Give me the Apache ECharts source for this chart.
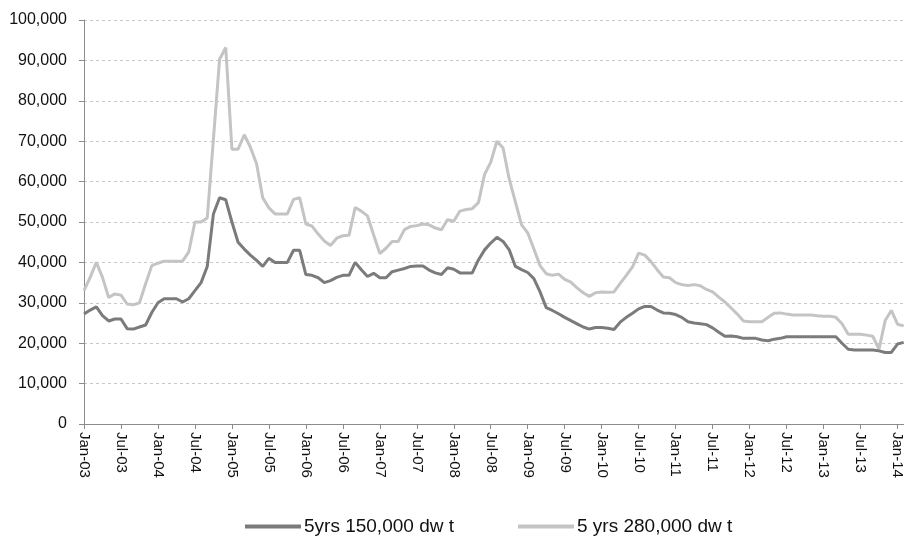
<!DOCTYPE html>
<html>
<head>
<meta charset="utf-8">
<script src="https://cdn.jsdelivr.net/npm/echarts@6/dist/echarts.min.js"></script>
<style>
  html, body { margin: 0; padding: 0; background: #fff; }
  #chart { width: 905px; height: 545px; }
</style>
</head>
<body>
<div id="chart"></div>
<script>
// monthly, Jan-03 .. Feb-14
var monthNames = ['Jan', 'Feb', 'Mar', 'Apr', 'May', 'Jun', 'Jul', 'Aug', 'Sep', 'Oct', 'Nov', 'Dec'];
var months = [];
for (var y = 3; y <= 14; y++) {
    for (var m = 0; m < 12; m++) {
        if (y === 14 && m > 1) break;
        months.push(monthNames[m] + '-' + (y < 10 ? '0' + y : y));
    }
}

var seriesNames = ['5yrs 150,000 dw t', '5 yrs 280,000 dw t'];

var dwt150 = [
    27200, 28200, 29000, 26800, 25500, 26000, 26000, 23600, 23500, 24000, 24500, 27600,
    30000, 31000, 31000, 31000, 30200, 31000, 33000, 35000, 39000, 52000, 56000, 55500,
    50000, 45000, 43300, 41800, 40500, 39000, 41000, 40000, 40000, 40000, 43000, 43000,
    37000, 36800, 36200, 35000, 35500, 36300, 36800, 36800, 40000, 38200, 36500, 37300,
    36200, 36200, 37700, 38100, 38500, 39000, 39100, 39100, 38100, 37400, 37000, 38700,
    38300, 37400, 37400, 37400, 40600, 43100, 44800, 46200, 45200, 43100, 39000, 38200,
    37500, 36000, 32700, 28800, 28100, 27300, 26400, 25600, 24800, 24000, 23500, 23900,
    23900, 23700, 23400, 25200, 26400, 27400, 28500, 29100, 29100, 28200, 27500, 27400,
    27100, 26400, 25300, 25000, 24800, 24600, 23800, 22700, 21700, 21800, 21600, 21200,
    21200, 21200, 20800, 20600, 21000, 21200, 21600, 21600, 21600, 21600, 21600, 21600,
    21600, 21600, 21600, 20000, 18500, 18300, 18300, 18300, 18300, 18100, 17700, 17700,
    19800, 20200
];

var dwt280 = [
    33000, 36300, 40000, 36300, 31300, 32200, 31900, 29700, 29500, 30000, 34700, 39200,
    39800, 40300, 40300, 40300, 40300, 42600, 50000, 50000, 51000, 70500, 90300, 93200,
    68000, 68000, 71600, 68500, 64400, 56000, 53500, 52000, 52000, 52000, 55600, 56000,
    49500, 49000, 47000, 45300, 44200, 46000, 46600, 46700, 53600, 52700, 51500, 46800,
    42200, 43500, 45200, 45200, 48100, 48900, 49100, 49500, 49300, 48500, 48100, 50600,
    50200, 52700, 53100, 53300, 54800, 61800, 64800, 70000, 68300, 60600, 55000, 49300,
    47300, 43300, 39200, 37200, 36800, 37100, 35800, 35100, 33700, 32500, 31600, 32500,
    32700, 32600, 32700, 34800, 36800, 38900, 42300, 41800, 40200, 38200, 36400, 36200,
    35000, 34500, 34300, 34500, 34200, 33300, 32700, 31400, 30200, 28700, 27200, 25500,
    25300, 25300, 25300, 26400, 27400, 27500, 27200, 27000, 27000, 27000, 27000, 26800,
    26700, 26700, 26400, 24800, 22200, 22200, 22200, 22000, 21700, 18500, 25600, 28100,
    24700, 24300
];

var colors = ['#7b7b7b', '#c4c4c4'];
var font = 'Liberation Sans';

var chart = echarts.init(document.getElementById('chart'));
chart.setOption({
    animation: false,
    backgroundColor: '#fff',
    color: colors,
    grid: {
        left: 84,
        top: 20,
        width: 822,
        bottom: 121
    },
    legend: {
        bottom: 4,
        left: 240,
        icon: 'rect',
        itemWidth: 56,
        itemHeight: 4,
        itemGap: 64,
        textStyle: { fontFamily: font, fontSize: 19, color: '#111', padding: [0, 0, 0, -2] },
        data: seriesNames
    },
    xAxis: {
        type: 'category',
        data: months,
        boundaryGap: false,
        axisLine: { lineStyle: { color: '#8c8c8c', width: 1 } },
        axisTick: { interval: 5, length: 5, lineStyle: { color: '#8c8c8c' } },
        axisLabel: {
            interval: 5,
            rotate: -90,
            margin: 8,
            fontFamily: font,
            fontSize: 15,
            color: '#111'
        },
        splitLine: { show: false }
    },
    yAxis: {
        type: 'value',
        min: 0,
        max: 100000,
        interval: 10000,
        axisLine: { show: true, lineStyle: { color: '#8c8c8c', width: 1 } },
        axisTick: { show: true, length: 5, lineStyle: { color: '#8c8c8c' } },
        axisLabel: {
            margin: 17,
            fontFamily: font,
            fontSize: 16,
            color: '#111',
            formatter: function (v) { return v.toLocaleString('en-US'); }
        },
        splitLine: { lineStyle: { color: '#c8c8c8', type: [3, 3], width: 1 } }
    },
    series: [
        {
            name: seriesNames[0],
            type: 'line',
            data: dwt150,
            symbol: 'none',
            lineStyle: { width: 3, color: colors[0] },
            z: 3
        },
        {
            name: seriesNames[1],
            type: 'line',
            data: dwt280,
            symbol: 'none',
            lineStyle: { width: 3, color: colors[1] },
            z: 2
        }
    ]
});
</script>
</body>
</html>
